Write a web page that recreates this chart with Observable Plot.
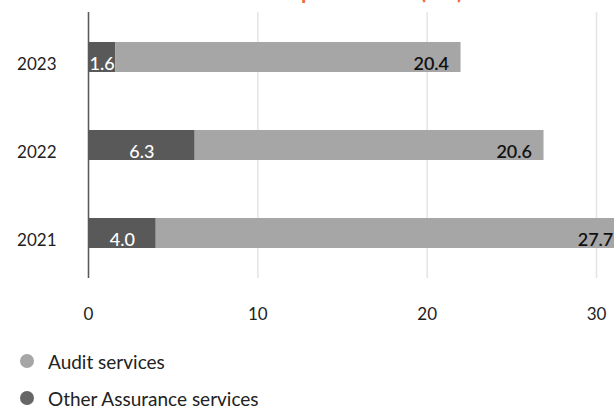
<!DOCTYPE html>
<html>
<head>
<meta charset="utf-8">
<script src="https://cdn.jsdelivr.net/npm/d3@7"></script>
<script src="https://cdn.jsdelivr.net/npm/@observablehq/plot@0.6"></script>
<style>
  body { margin: 0; background: #fff; font-family: Lato, "Open Sans", sans-serif; overflow: hidden; }
  #wrap { position: relative; width: 614px; height: 410px; overflow: hidden; }
  #title { position: absolute; right: 151px; top: -20px; font-size: 22px; font-weight: 700; color: #f26a3b; line-height: 1; white-space: nowrap; }
  #legend { position: absolute; left: 20px; top: 350px; font-size: 19px; color: #222; }
  .row { display: flex; align-items: center; height: 22px; margin-bottom: 15px; }
  .dot { width: 14px; height: 14px; border-radius: 50%; margin-right: 14px; }
</style>
</head>
<body>
<div id="wrap">
  <div id="title">Group audit fees (€m)</div>
  <div id="chart"></div>
  <div id="legend"></div>
</div>
<script>
const years = ["2023", "2022", "2021"];
const audit = [20.4, 20.6, 27.7];
const other = [1.6, 6.3, 4.0];
const seriesNames = ["Other Assurance services", "Audit services"];
const seriesColors = ["#595959", "#a6a6a6"];
const xTicks = [0, 10, 20, 30];

const rows = [];
years.forEach((y, i) => {
  rows.push({year: y, series: seriesNames[0], value: other[i]});
  rows.push({year: y, series: seriesNames[1], value: audit[i]});
});

const chart = Plot.plot({
  width: 614,
  height: 335,
  marginLeft: 88,
  marginRight: 18,
  marginTop: 12,
  marginBottom: 57,
  style: {fontFamily: "Lato, 'Open Sans', sans-serif", fontSize: "17px", color: "#222", background: "#fff"},
  x: {domain: [0, 30], ticks: xTicks},
  y: {domain: years, paddingInner: 0.66, paddingOuter: 0.33, label: null},
  color: {domain: seriesNames, range: seriesColors},
  marks: [
    Plot.gridX(xTicks, {stroke: "#e4e4e4", strokeOpacity: 1, strokeWidth: 1.5}),
    Plot.barX(rows, {y: "year", x: "value", fill: "series", clip: false}),
    Plot.ruleX([0], {stroke: "#595959", strokeWidth: 1.5}),
    Plot.text(years, {
      y: d => d,
      x: (d, i) => other[i] / 2,
      text: (d, i) => other[i].toFixed(1),
      fill: "#fff", fontSize: 18, fontWeight: 500, dy: 7
    }),
    Plot.text(years, {
      y: d => d,
      x: (d, i) => other[i] + audit[i],
      text: (d, i) => audit[i].toFixed(1),
      fill: "#111", fontSize: 18, fontWeight: 600, textAnchor: "end", dx: -12, dy: 7
    }),
    Plot.axisX({ticks: xTicks, tickSize: 0, tickPadding: 29, label: null, fontSize: 17, fill: "#222"}),
    Plot.axisY({tickSize: 0, tickPadding: 32, label: null, fontSize: 17, fill: "#222", dy: 7})
  ]
});
document.getElementById("chart").appendChild(chart);

const legend = document.getElementById("legend");
[[seriesNames[1], seriesColors[1]], [seriesNames[0], "#666"]].forEach(([name, col]) => {
  const r = document.createElement("div");
  r.className = "row";
  r.innerHTML = `<span class="dot" style="background:${col}"></span><span>${name}</span>`;
  legend.appendChild(r);
});
</script>
</body>
</html>
